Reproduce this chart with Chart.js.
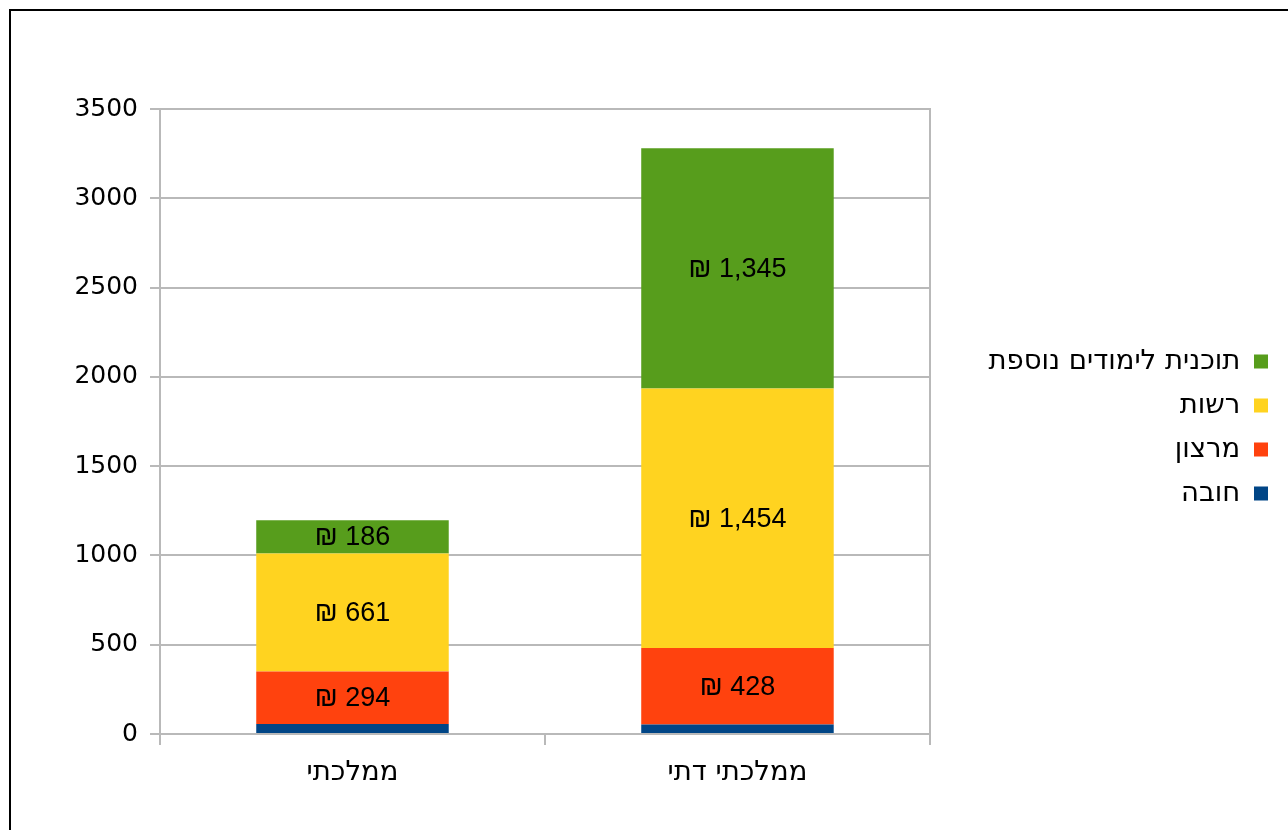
<!DOCTYPE html>
<html lang="he">
<head>
<meta charset="utf-8">
<script src="https://cdn.jsdelivr.net/npm/chart.js@4.4.1/dist/chart.umd.min.js"></script>
<style>
  html, body { margin: 0; padding: 0; background: #fff; overflow: hidden; }
  #wrap { position: relative; width: 1288px; height: 830px; }
  #frame { position: absolute; left: 9px; top: 9px; width: 1400px; height: 900px;
           border-top: 2px solid #000; border-left: 2px solid #000; pointer-events: none; }
</style>
</head>
<body>
<div id="wrap">
  <canvas id="chart" width="1288" height="830"></canvas>
  <div id="frame"></div>
</div>
<script>
// נתונים
const categories = ['ממלכתי', 'ממלכתי דתי'];
const seriesNames = ['חובה', 'מרצון', 'רשות', 'תוכנית לימודים נוספת'];
const hova = [56, 53];
const meratzon = [294, 428];
const reshut = [661, 1454];
const tochnit = [186, 1345];
const yTicks = [0, 500, 1000, 1500, 2000, 2500, 3000, 3500];

const colors = ['#004586', '#ff420e', '#ffd320', '#579d1c'];
const gridColor = '#b9b9b9';
const hebFont = '"DejaVu Sans", sans-serif';

// תוויות ערכים בתוך העמודות (בלי הסדרה הכחולה)
const valueLabels = {
  id: 'valueLabels',
  afterDatasetsDraw(chart) {
    const ctx = chart.ctx;
    ctx.save();
    ctx.font = '27px "Liberation Sans", Arial, sans-serif';
    ctx.fillStyle = '#000';
    ctx.textAlign = 'center';
    ctx.textBaseline = 'middle';
    chart.data.datasets.forEach((ds, i) => {
      if (i === 0) return;
      chart.getDatasetMeta(i).data.forEach((bar, j) => {
        const v = ds.data[j];
        ctx.fillText('₪ ' + v.toLocaleString('en-US'), bar.x, (bar.y + bar.base) / 2 + 1);
      });
    });
    ctx.restore();
  }
};

new Chart(document.getElementById('chart'), {
  type: 'bar',
  data: {
    labels: categories,
    datasets: [
      { label: seriesNames[0], data: hova, backgroundColor: colors[0] },
      { label: seriesNames[1], data: meratzon, backgroundColor: colors[1] },
      { label: seriesNames[2], data: reshut, backgroundColor: colors[2] },
      { label: seriesNames[3], data: tochnit, backgroundColor: colors[3] }
    ]
  },
  options: {
    responsive: false,
    animation: false,
    layout: { padding: { top: 109, right: 3.5, bottom: 0, left: 0 } },
    datasets: { bar: { categoryPercentage: 1.0, barPercentage: 0.5 } },
    plugins: {
      tooltip: { enabled: false },
      legend: {
        position: 'right',
        fullSize: false,
        reverse: true,
        rtl: true,
        maxWidth: 400,
        title: { display: true, text: '', padding: 5.5, font: { size: 1 } },
        labels: {
          boxWidth: 14,
          boxHeight: 14,
          padding: 16.5,
          color: '#000',
          font: { family: hebFont, size: 27.5 }
        }
      }
    },
    scales: {
      x: {
        stacked: true,
        afterFit(s) { s.height = 96; },
        grid: { drawOnChartArea: false, tickLength: 11, color: gridColor, lineWidth: 2 },
        border: { color: gridColor, width: 2 },
        ticks: { padding: 11, color: '#000', font: { family: hebFont, size: 27.5 } }
      },
      y: {
        stacked: true,
        min: 0,
        max: 3500,
        afterFit(s) { s.width = 160; },
        afterBuildTicks(s) { s.ticks = yTicks.map(v => ({ value: v })); },
        grid: { color: gridColor, lineWidth: 2, tickLength: 10 },
        border: { color: gridColor, width: 2 },
        ticks: {
          padding: 12, color: '#000',
          font: { family: '"DejaVu Sans", sans-serif', size: 25 },
          callback: v => String(v)
        }
      },
      y2: {
        position: 'right',
        afterFit(s) { s.width = 48.5; },
        grid: { display: false },
        border: { display: true, color: gridColor, width: 2 },
        ticks: { display: false }
      }
    }
  },
  plugins: [valueLabels]
});
</script>
</body>
</html>
